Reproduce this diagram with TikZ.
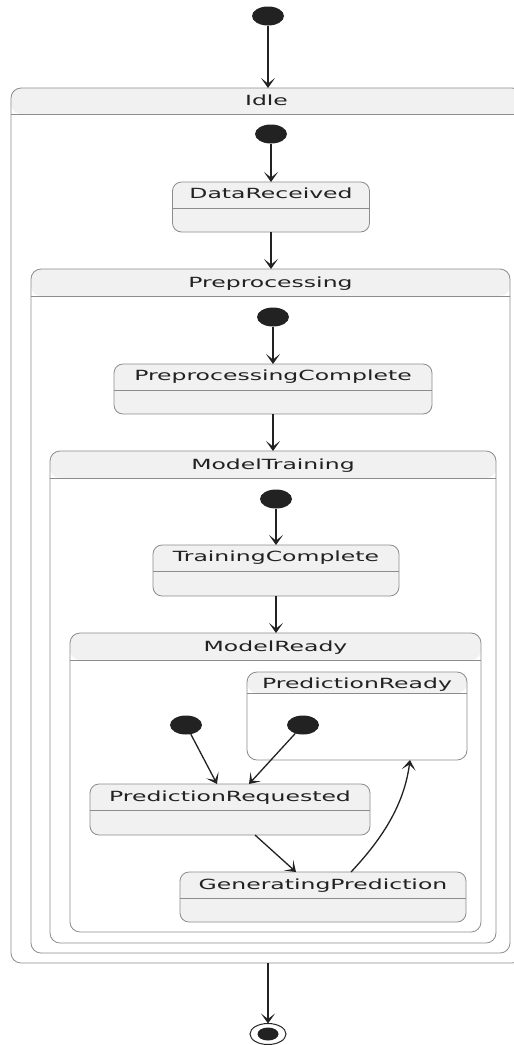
\documentclass[tikz,border=0pt]{standalone}
\usepackage{fontspec}
\setmainfont{DejaVu Sans}
\usetikzlibrary{arrows.meta,calc,shapes.geometric}
\definecolor{boxfill}{HTML}{F1F1F1}
\definecolor{boxline}{HTML}{8C8C8C}
\definecolor{ink}{HTML}{222222}
\newcommand{\wide}[1]{\scalebox{1.68}[1]{#1}}

\begin{document}
\begin{tikzpicture}[x=1pt, y=-1pt,
    font=\fontsize{14}{16}\selectfont, text=ink,
    every node/.style={inner sep=0pt, outer sep=0pt},
    start/.style={ellipse, fill=ink, minimum width=32pt, minimum height=19pt},
    simple/.style={draw=boxline, fill=boxfill, rounded corners=9pt, line width=0.8pt,
      path picture={\draw[boxline, line width=0.8pt]
        ([yshift=-26pt]path picture bounding box.north west) --
        ([yshift=-26pt]path picture bounding box.north east);}},
    compo/.style={draw=boxline, fill=white, rounded corners=10pt, line width=0.8pt,
      path picture={\fill[boxfill] (path picture bounding box.north west) rectangle
        ([yshift=-#1]path picture bounding box.north east);
        \draw[boxline, line width=0.8pt]
        ([yshift=-#1]path picture bounding box.north west) --
        ([yshift=-#1]path picture bounding box.north east);}},
    title/.style={anchor=base},
    trans/.style={draw=ink, line width=1.3pt, -{Stealth[length=10pt,width=14pt,inset=5.5pt]}}]
  \path[use as bounding box, clip] (0,0) rectangle (514,1045);

  % composite states
  \node[compo=26pt, minimum width=511pt, minimum height=875pt] (idle) at (266.5,525.5) {};
  \node[compo=27pt, minimum width=479pt, minimum height=684pt] (pre) at (270.5,611) {};
  \node[compo=27pt, minimum width=446pt, minimum height=492pt] (mt) at (273,697) {};
  \node[compo=27pt, minimum width=411pt, minimum height=299pt] (mr) at (275.5,782.5) {};
  \node[compo=21pt, minimum width=220pt, minimum height=88pt] (pr) at (357,716) {};

  % simple states
  \node[simple, minimum width=197pt, minimum height=50pt] (dr) at (271,207) {};
  \node[simple, minimum width=318pt, minimum height=50pt] (pc) at (273,389) {};
  \node[simple, minimum width=246pt, minimum height=51pt] (tc) at (276,570.5) {};
  \node[simple, minimum width=280pt, minimum height=51pt] (preq) at (230,809.5) {};
  \node[simple, minimum width=286pt, minimum height=50pt] (gp) at (323,897) {};

  % titles
  \node[title] (idlet) at ($(idle.north)+(0,17)$) {\wide{Idle}};
  \node[title] (pret) at ($(pre.north)+(0,18)$) {\wide{Preprocessing}};
  \node[title] (mtt) at ($(mt.north)+(0,18)$) {\wide{ModelTraining}};
  \node[title] (mrt) at ($(mr.north)+(0,18)$) {\wide{ModelReady}};
  \node[title] (prt) at ($(pr.north)+(0,16)$) {\wide{PredictionReady}};
  \node[title] (drt) at ($(dr.north)+(0,16)$) {\wide{DataReceived}};
  \node[title] (pct) at ($(pc.north)+(0,16)$) {\wide{PreprocessingComplete}};
  \node[title] (tct) at ($(tc.north)+(0,16)$) {\wide{TrainingComplete}};
  \node[title] (preqt) at ($(preq.north)+(0,17)$) {\wide{PredictionRequested}};
  \node[title] (gpt) at ($(gp.north)+(0,17)$) {\wide{GeneratingPrediction}};

  % pseudo states
  \node[start] (i0) at (268,16) {};
  \node[start] (i1) at (271,134) {};
  \node[start] (i2) at (273,317) {};
  \node[start] (i3) at (276,499) {};
  \node[start] (i4) at (186,725) {};
  \node[start] (i5) at (303,725) {};
  \node[ellipse, draw=ink, line width=1pt, minimum width=36pt, minimum height=21pt] (fin) at (268,1034) {};
  \node[ellipse, fill=ink, minimum width=21pt, minimum height=13pt] (finc) at (fin) {};

  % transitions
  \draw[trans] (i0) -- (i0 |- idle.north);
  \draw[trans] (i1) -- (i1 |- dr.north);
  \draw[trans] (dr.south) -- (dr.south |- pre.north);
  \draw[trans] (i2) -- (i2 |- pc.north);
  \draw[trans] (pc.south) -- (pc.south |- mt.north);
  \draw[trans] (i3) -- (i3 |- tc.north);
  \draw[trans] (tc.south) -- (tc.south |- mr.north);
  \draw[trans] (i4) -- ($(preq.north)+(-13,0)$);
  \draw[trans] (i5) -- ($(preq.north)+(19,0)$);
  \draw[trans] ($(preq.south)+(25,0)$) -- ($(gp.north)+(-27,0)$);
  \coordinate (gpout) at ($(gp.north)+(28,0)$);
  \coordinate (prin) at ($(pr.south)+(53,0)$);
  \draw[trans] (gpout) .. controls +(30,-32) and +(-6,46) .. (prin);
  \draw[trans] (fin |- idle.south) -- (fin);
\end{tikzpicture}
\end{document}
